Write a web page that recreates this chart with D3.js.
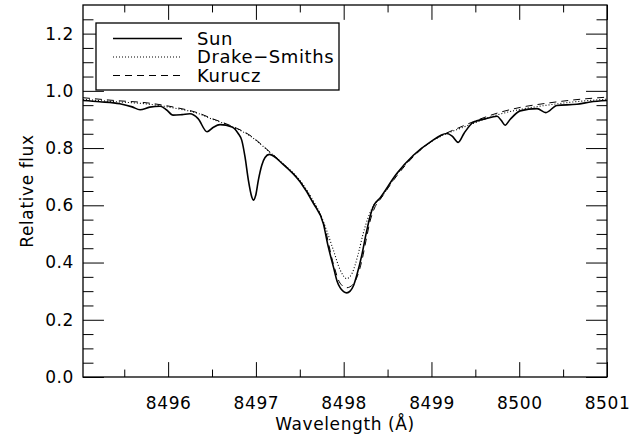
<!DOCTYPE html>
<html>
<head>
  <meta charset="utf-8">
  <script src="https://d3js.org/d3.v7.min.js"></script>
  <style>
    body { margin: 0; background: #fff; }
    text { font-family: "DejaVu Sans", sans-serif; fill: #000; }
  </style>
</head>
<body>
  <div id="chart"></div>
</body>

<script>

  // Sun (solid)
  const sunWave = [8495.03, 8495.22, 8495.45, 8495.59, 8495.68, 8495.79, 8495.91, 8495.98, 8496.056, 8496.158,
    8496.249, 8496.341, 8496.443, 8496.512, 8496.591, 8496.728, 8496.800, 8496.839, 8496.876, 8496.914,
    8496.953, 8496.971, 8496.998, 8497.028, 8497.067, 8497.104, 8497.153, 8497.313, 8497.503, 8497.655,
    8497.769, 8497.822, 8497.883, 8497.925, 8497.959, 8497.999, 8498.035, 8498.073, 8498.110, 8498.153,
    8498.206, 8498.255, 8498.301, 8498.335, 8498.415, 8498.605, 8498.794, 8498.985, 8499.175, 8499.236,
    8499.304, 8499.372, 8499.475, 8499.612, 8499.748, 8499.794, 8499.839, 8499.896, 8500.010, 8500.204,
    8500.303, 8500.429, 8500.657, 8500.808, 8501.00]
  const sunFlux = [0.966, 0.962, 0.955, 0.944, 0.934, 0.943, 0.946, 0.934, 0.915, 0.917,
    0.920, 0.903, 0.857, 0.872, 0.882, 0.874, 0.850, 0.827, 0.769, 0.688,
    0.629, 0.618, 0.635, 0.688, 0.740, 0.767, 0.778, 0.742, 0.682, 0.607,
    0.535, 0.458, 0.385, 0.335, 0.312, 0.298, 0.294, 0.300, 0.318, 0.360,
    0.425, 0.500, 0.562, 0.594, 0.626, 0.711, 0.775, 0.821, 0.851, 0.842,
    0.820, 0.852, 0.890, 0.902, 0.911, 0.897, 0.880, 0.900, 0.930, 0.938,
    0.924, 0.949, 0.953, 0.961, 0.966]

  // Drake-Smiths (dotted)
  const drakeWave = [8495.03, 8495.40, 8495.76, 8496.10, 8496.33, 8496.51, 8496.70, 8496.93, 8497.16, 8497.31,
    8497.50, 8497.655, 8497.731, 8497.808, 8497.883, 8497.959, 8498.035, 8498.095, 8498.167, 8498.221,
    8498.282, 8498.347, 8498.415, 8498.605, 8498.794, 8498.985, 8499.175, 8499.304, 8499.475, 8499.748,
    8500.010, 8500.296, 8500.580, 8501.00]
  const drakeFlux = [0.970, 0.962, 0.954, 0.938, 0.922, 0.900, 0.878, 0.843, 0.785, 0.745,
    0.688, 0.615, 0.571, 0.510, 0.443, 0.375, 0.344, 0.362, 0.432, 0.500,
    0.560, 0.603, 0.624, 0.708, 0.773, 0.820, 0.851, 0.866, 0.886, 0.916,
    0.935, 0.949, 0.960, 0.971]

  // Kurucz (dashed)
  const kuruczWave = [8495.03, 8495.40, 8495.76, 8496.10, 8496.33, 8496.51, 8496.70, 8496.93, 8497.16, 8497.31,
    8497.50, 8497.655, 8497.769, 8497.883, 8497.959, 8498.035, 8498.110, 8498.153, 8498.206, 8498.255,
    8498.301, 8498.358, 8498.415, 8498.605, 8498.794, 8498.985, 8499.175, 8499.304, 8499.475, 8499.748,
    8500.010, 8500.296, 8500.580, 8501.00]
  const kuruczFlux = [0.976, 0.966, 0.958, 0.941, 0.924, 0.902, 0.880, 0.845, 0.786, 0.745,
    0.686, 0.610, 0.540, 0.395, 0.328, 0.312, 0.325, 0.350, 0.405, 0.478,
    0.545, 0.595, 0.620, 0.703, 0.770, 0.820, 0.853, 0.870, 0.892, 0.922,
    0.942, 0.956, 0.967, 0.978]

  const xMajor = [8496, 8497, 8498, 8499, 8500, 8501]
  const xMinor = [8495.5, 8496.5, 8497.5, 8498.5, 8499.5, 8500.5]
  const yMajor = [0.0, 0.2, 0.4, 0.6, 0.8, 1.0, 1.2]
  const yMinor = [0.05, 0.1, 0.15, 0.25, 0.3, 0.35, 0.45, 0.5, 0.55, 0.65, 0.7, 0.75,
    0.85, 0.9, 0.95, 1.05, 1.1, 1.15, 1.25]

  const legendLabels = ["Sun", "Drake\u2212Smiths", "Kurucz"]
  const legendDash = [null, "1,2", "7,5"]

  const width = 642, height = 441
  const margin = { top: 5, right: 35, bottom: 64, left: 83 },
    innerWidth = width - margin.left - margin.right,
    innerHeight = height - margin.top - margin.bottom

  const xScale = d3.scaleLinear()
    .domain([8495.03, 8501])
    .range([0, innerWidth])

  const yScale = d3.scaleLinear()
    .domain([0, 1.3])
    .range([innerHeight, 0])

  const svg = d3.select("#chart").append("svg")
    .attr("width", width)
    .attr("height", height)

  const g = svg.append("g")
    .attr("transform", `translate(${margin.left}, ${margin.top})`)

  // ticks (IDL style: inward, on all four sides)
  const yLen = innerWidth * 0.04, xLen = innerHeight * 0.04

  g.append("g")
    .attr("class", "axis axis-y labelled")
    .call(d3.axisLeft(yScale).tickValues(yMajor).tickSize(-yLen).tickPadding(9)
      .tickFormat(d3.format(".1f")))
  g.append("g")
    .call(d3.axisLeft(yScale).tickValues(yMinor).tickSize(-yLen / 2).tickFormat(""))
  g.append("g")
    .attr("transform", `translate(${innerWidth}, 0)`)
    .call(d3.axisRight(yScale).tickValues(yMajor).tickSize(-yLen).tickFormat(""))
  g.append("g")
    .attr("transform", `translate(${innerWidth}, 0)`)
    .call(d3.axisRight(yScale).tickValues(yMinor).tickSize(-yLen / 2).tickFormat(""))

  g.append("g")
    .attr("class", "axis axis-x labelled")
    .attr("transform", `translate(0, ${innerHeight})`)
    .call(d3.axisBottom(xScale).tickValues(xMajor).tickSize(-xLen).tickPadding(20)
      .tickFormat(d3.format("d")))
  g.append("g")
    .attr("transform", `translate(0, ${innerHeight})`)
    .call(d3.axisBottom(xScale).tickValues(xMinor).tickSize(-xLen / 2).tickFormat(""))
  g.append("g")
    .call(d3.axisTop(xScale).tickValues(xMajor).tickSize(-xLen).tickFormat(""))
  g.append("g")
    .call(d3.axisTop(xScale).tickValues(xMinor).tickSize(-xLen / 2).tickFormat(""))

  g.selectAll(".domain").remove()
  g.selectAll("g:not(.labelled) > .tick text").remove()
  g.selectAll(".tick line").attr("stroke", "#000").attr("stroke-width", 1)
  g.selectAll(".tick text")
    .attr("font-size", 17)
    .attr("letter-spacing", 0.6)
    .attr("font-family", "DejaVu Sans, sans-serif")
    .attr("fill", "#000")

  // frame
  g.append("rect")
    .attr("x", 0).attr("y", 0)
    .attr("width", innerWidth).attr("height", innerHeight)
    .attr("fill", "none")
    .attr("stroke", "#000")
    .attr("stroke-width", 1.3)

  // axis titles
  g.append("text")
    .attr("x", innerWidth / 2)
    .attr("y", innerHeight + 53)
    .attr("text-anchor", "middle")
    .attr("font-size", 17)
    .attr("letter-spacing", 0.6)
    .text("Wavelength (\u00c5)")

  g.append("text")
    .attr("transform", `translate(-50, ${innerHeight / 2}) rotate(-90)`)
    .attr("text-anchor", "middle")
    .attr("font-size", 17)
    .attr("letter-spacing", 0.6)
    .text("Relative flux")

  // spectra
  const line = d3.line()
    .x(d => xScale(d[0]))
    .y(d => yScale(d[1]))
    .curve(d3.curveMonotoneX)

  const series = [
    { pts: d3.zip(kuruczWave, kuruczFlux), dash: legendDash[2], w: 1 },
    { pts: d3.zip(drakeWave, drakeFlux), dash: legendDash[1], w: 1.1 },
    { pts: d3.zip(sunWave, sunFlux), dash: legendDash[0], w: 1.6 }
  ]

  g.selectAll(".spec")
    .data(series).enter()
    .append("path")
    .attr("class", "spec")
    .attr("d", d => line(d.pts))
    .attr("fill", "none")
    .attr("stroke", "#000")
    .attr("stroke-width", d => d.w)
    .attr("stroke-dasharray", d => d.dash)

  // legend
  const legend = g.append("g")
    .attr("transform", "translate(13, 18)")

  legend.append("rect")
    .attr("width", 243)
    .attr("height", 67)
    .attr("fill", "#fff")
    .attr("stroke", "#000")
    .attr("stroke-width", 1.3)

  const rows = legend.selectAll(".row")
    .data(legendLabels).enter()
    .append("g")
    .attr("transform", (d, i) => `translate(0, ${15.5 + i * 18.5})`)

  rows.append("line")
    .attr("x1", 17).attr("x2", 86)
    .attr("stroke", "#000")
    .attr("stroke-width", (d, i) => i === 0 ? 1.6 : 1.1)
    .attr("stroke-dasharray", (d, i) => legendDash[i])

  rows.append("text")
    .attr("x", 101)
    .attr("dy", "0.35em")
    .attr("font-size", 18)
    .attr("letter-spacing", 0.6)
    .text(d => d)

</script>
</html>
